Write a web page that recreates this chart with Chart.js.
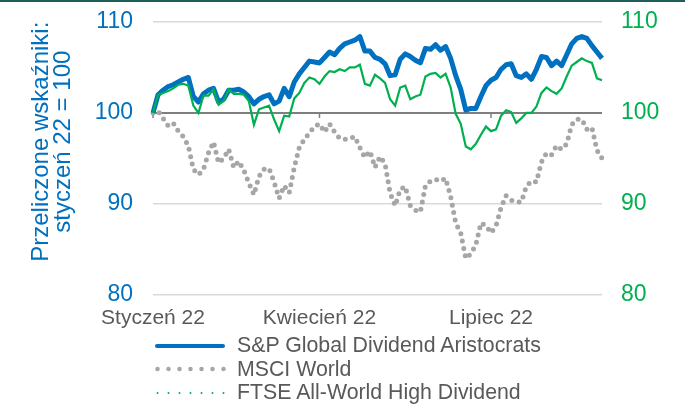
<!DOCTYPE html>
<html>
<head>
<meta charset="utf-8">
<script src="https://cdn.jsdelivr.net/npm/chart.js@4.4.1/dist/chart.umd.min.js"></script>
<style>
  html, body { margin: 0; padding: 0; background: #fff; }
  body { width: 685px; height: 406px; overflow: hidden; position: relative; }
  #topline { position: absolute; left: 0; top: 0; width: 685px; height: 2px; background: #1d5f58; }
  #wrap { position: absolute; left: 0; top: 0; width: 685px; height: 406px; }
  #legend { position: absolute; left: 155px; top: 334px; font: 21.3px "Liberation Sans", Arial, sans-serif; color: #595959; }
  .row { display: flex; align-items: center; height: 23.5px; white-space: nowrap; }
  .row svg { margin-right: 11px; }
</style>
</head>
<body>
<div id="wrap"><canvas id="chart"></canvas></div>
<div id="topline"></div>
<div id="legend"></div>
<script>
// x axis labels (only these positions get text)
const tickLabels = ['Styczeń 22', 'Kwiecień 22', 'Lipiec 22'];
const tickAt = [0, 33, 67];

// rebased indices, Jan 22 = 100 (~every 2 sessions)
const spValues = [
  100.0, 102.0, 102.5, 102.9, 103.1, 103.4, 103.7, 103.9, 101.8, 101.2,
  102.1, 102.5, 102.7, 101.2, 101.5, 102.5, 102.5, 102.6, 102.3, 101.8,
  101.0, 101.5, 101.8, 102.0, 101.0, 101.3, 102.7, 101.8, 103.4, 104.3,
  105.0, 105.7, 105.6, 105.5, 106.1, 106.7, 106.4, 107.1, 107.6, 107.8,
  108.0, 108.4, 106.8, 106.8, 106.1, 105.9, 105.4, 104.1, 104.2, 105.9,
  106.5, 106.2, 105.8, 105.5, 107.1, 107.0, 107.5, 106.9, 107.3, 106.0,
  104.1, 102.6, 100.3, 100.5, 100.5, 101.8, 103.0, 103.6, 103.9, 104.8,
  105.3, 105.4, 104.1, 103.9, 104.3, 103.7, 104.8, 106.2, 106.1, 105.2,
  105.7, 105.2, 106.4, 107.6, 108.2, 108.4, 108.2, 107.4, 106.7, 106.0
];
const msciValues = [
  100.0, 100.2, 99.4, 98.6, 98.9, 98.0, 97.4, 96.4, 93.8, 93.2,
  93.8, 95.6, 96.8, 94.5, 95.0, 96.0, 94.0, 94.7, 93.7, 92.3,
  91.0, 93.0, 93.8, 93.9, 92.4, 90.6, 92.0, 91.2, 94.0, 96.2,
  97.1, 97.8, 98.5, 98.8, 97.9, 98.8, 97.9, 97.2, 97.1, 97.2,
  97.4, 96.2, 95.1, 95.8, 94.0, 95.2, 94.4, 91.2, 89.8, 91.6,
  91.9, 89.8, 89.3, 89.1, 92.0, 92.5, 92.7, 92.5, 92.8, 90.8,
  87.9, 86.8, 84.0, 84.5, 85.5, 87.9, 87.6, 86.8, 87.6, 89.6,
  90.9, 90.4, 90.2, 90.2, 91.9, 92.5, 92.4, 94.6, 95.6, 95.4,
  96.4, 96.0, 96.6, 98.7, 99.3, 99.3, 98.2, 98.4, 95.9, 95.0
];
const ftseValues = [
  100.0, 102.0, 102.2, 102.4, 102.7, 103.1, 103.2, 103.0, 100.8, 100.0,
  101.9, 101.9, 102.6, 100.9, 101.3, 102.6, 102.1, 102.1, 102.0, 101.3,
  98.7, 100.4, 100.6, 100.8, 99.3, 98.0, 99.7, 99.6, 101.6, 102.2,
  103.3, 103.9, 103.7, 103.2, 104.0, 104.6, 104.5, 104.8, 104.6, 105.0,
  105.0, 105.3, 103.2, 103.0, 104.2, 103.8, 103.3, 101.5, 100.8, 102.8,
  103.0, 101.5, 101.8, 102.0, 104.0, 104.3, 104.4, 103.9, 104.3, 102.8,
  99.9, 98.8, 96.3, 96.0, 96.6, 97.6, 98.5, 98.0, 98.2, 99.7,
  100.3, 100.1, 98.9, 99.4, 100.0, 100.0, 100.7, 102.2, 102.8, 102.4,
  102.1, 102.7, 104.0, 105.2, 105.6, 106.0, 105.7, 105.5, 103.8, 103.6
];

const labels = spValues.map((v, i) => i);
const font = '"Liberation Sans", Arial, sans-serif';

// little tick marks sitting on the 100 line
const tickMarks = {
  id: 'tickMarks',
  beforeDatasetsDraw(chart) {
    const { ctx, scales: { x, y } } = chart;
    const y0 = y.getPixelForValue(100);
    ctx.save();
    ctx.strokeStyle = '#7f7f7f';
    ctx.lineWidth = 1.5;
    tickAt.forEach(i => {
      const px = x.getPixelForValue(i);
      ctx.beginPath();
      ctx.moveTo(px, y0);
      ctx.lineTo(px, y0 + 5);
      ctx.stroke();
    });
    ctx.restore();
  }
};

const chart = new Chart(document.getElementById('chart'), {
  type: 'line',
  data: {
    labels: labels,
    datasets: [
      {
        label: 'S&P Global Dividend Aristocrats',
        data: spValues,
        yAxisID: 'y',
        borderColor: '#0070c0',
        borderWidth: 5,
        borderJoinStyle: 'round',
        pointRadius: 0,
        tension: 0,
        order: 1
      },
      {
        label: 'MSCI World',
        data: msciValues,
        yAxisID: 'y',
        borderColor: '#a6a6a6',
        borderWidth: 5,
        borderDash: [0, 7.5],
        borderCapStyle: 'round',
        borderJoinStyle: 'round',
        pointRadius: 0,
        tension: 0,
        order: 2
      },
      {
        label: 'FTSE All-World High Dividend',
        data: ftseValues,
        yAxisID: 'y1',
        borderColor: '#00b050',
        borderWidth: 2.2,
        pointRadius: 0,
        tension: 0,
        order: 0
      }
    ]
  },
  options: {
    responsive: true,
    maintainAspectRatio: false,
    animation: false,
    layout: { padding: { top: 22, bottom: 64, left: 0, right: 0 } },
    plugins: {
      legend: { display: false },
      tooltip: { enabled: false }
    },
    scales: {
      x: {
        grid: { display: false, drawTicks: false },
        border: { display: false },
        ticks: {
          autoSkip: false,
          maxRotation: 0,
          padding: 11,
          color: '#595959',
          font: { family: font, size: 21 },
          callback: (v, i) => {
            const k = tickAt.indexOf(i);
            return k >= 0 ? tickLabels[k] : '';
          }
        }
      },
      y: {
        position: 'left',
        min: 80,
        max: 110,
        border: { display: false },
        grid: {
          drawTicks: true,
          tickLength: 20,
          tickColor: 'rgba(0,0,0,0)',
          color: c => c.tick.value === 100 ? '#7f7f7f' : '#d9d9d9',
          lineWidth: c => c.tick.value === 100 ? 2 : 1.5
        },
        ticks: { stepSize: 10, padding: 0, color: '#0070c0', font: { family: font, size: 23 } },
        title: {
          display: true,
          text: ['     Przeliczone wskaźniki:', '     styczeń 22 = 100'],
          color: '#0070c0',
          font: { family: font, size: 24, lineHeight: 0.92 },
          padding: { top: 30, bottom: 0 }
        },
        afterFit: s => { s.width = 153; }
      },
      y1: {
        position: 'right',
        min: 80,
        max: 110,
        border: { display: false },
        grid: { display: false, drawTicks: true, tickLength: 19 },
        ticks: { stepSize: 10, padding: 0, color: '#00b050', font: { family: font, size: 23 } },
        afterFit: s => { s.width = 83; }
      }
    }
  },
  plugins: [tickMarks]
});

// legend built by hand so the three entries stack like the original
const legendLines = [
  '<line x1="2" y1="5" x2="68" y2="5" stroke="#0070c0" stroke-width="4" stroke-linecap="round"/>',
  '<line x1="2.5" y1="5" x2="69" y2="5" stroke="#a6a6a6" stroke-width="4.5" stroke-dasharray="0 11" stroke-linecap="round"/>',
  '<line x1="2.5" y1="5" x2="69" y2="5" stroke="#00b050" stroke-width="2" stroke-dasharray="0 11" stroke-linecap="round"/>'
];
const legendOrder = [0, 1, 2];
document.getElementById('legend').innerHTML = legendOrder.map((d, k) =>
  '<div class="row"><svg width="71" height="10">' + legendLines[k] + '</svg>' +
  chart.data.datasets[d].label.replace('&', '&amp;') + '</div>'
).join('');
</script>
</body>
</html>
